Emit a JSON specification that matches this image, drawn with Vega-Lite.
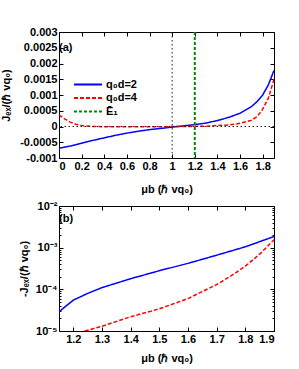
{
  "$schema": "https://vega.github.io/schema/vega-lite/v6.json",
  "padding": {"left": 0, "top": 25, "right": 5, "bottom": 5},
  "background": "white",
  "spacing": 4,
  "config": {
    "font": "Liberation Sans",
    "view": {"stroke": "black", "strokeWidth": 1},
    "axis": {
      "labelFont": "Liberation Sans", "labelFontWeight": "bold", "labelFontSize": 11, "labelColor": "black",
      "titleFont": "Liberation Sans", "titleFontWeight": "bold", "titleFontSize": 11, "titleColor": "black",
      "grid": false, "domain": false, "tickColor": "black", "tickSize": -4, "tickWidth": 1, "labelPadding": 6
    },
    "legend": {
      "labelFont": "Liberation Sans", "labelFontWeight": "bold", "labelFontSize": 11, "labelColor": "black"
    }
  },
  "datasets": {
    "top": [
      {"x": 0, "y": -0.00069, "series": "q₀d=2"},
      {"x": 0.1, "y": -0.00062, "series": "q₀d=2"},
      {"x": 0.2, "y": -0.00053, "series": "q₀d=2"},
      {"x": 0.3, "y": -0.00044, "series": "q₀d=2"},
      {"x": 0.4, "y": -0.00036, "series": "q₀d=2"},
      {"x": 0.5, "y": -0.00028, "series": "q₀d=2"},
      {"x": 0.6, "y": -0.00021, "series": "q₀d=2"},
      {"x": 0.7, "y": -0.00015, "series": "q₀d=2"},
      {"x": 0.8, "y": -0.0001, "series": "q₀d=2"},
      {"x": 0.9, "y": -0.00006, "series": "q₀d=2"},
      {"x": 1.0, "y": -0.00002, "series": "q₀d=2"},
      {"x": 1.1, "y": 0.00002, "series": "q₀d=2"},
      {"x": 1.2, "y": 0.00006, "series": "q₀d=2"},
      {"x": 1.3, "y": 0.00011, "series": "q₀d=2"},
      {"x": 1.4, "y": 0.00019, "series": "q₀d=2"},
      {"x": 1.5, "y": 0.00029, "series": "q₀d=2"},
      {"x": 1.6, "y": 0.00042, "series": "q₀d=2"},
      {"x": 1.7, "y": 0.00063, "series": "q₀d=2"},
      {"x": 1.75, "y": 0.00079, "series": "q₀d=2"},
      {"x": 1.8, "y": 0.001, "series": "q₀d=2"},
      {"x": 1.85, "y": 0.00132, "series": "q₀d=2"},
      {"x": 1.9, "y": 0.00178, "series": "q₀d=2"},
      {"x": 0, "y": 0.00037, "series": "q₀d=4"},
      {"x": 0.05, "y": 0.00024, "series": "q₀d=4"},
      {"x": 0.1, "y": 0.00014, "series": "q₀d=4"},
      {"x": 0.15, "y": 0.00007, "series": "q₀d=4"},
      {"x": 0.2, "y": 0.00003, "series": "q₀d=4"},
      {"x": 0.3, "y": 0.0, "series": "q₀d=4"},
      {"x": 0.5, "y": -0.00001, "series": "q₀d=4"},
      {"x": 0.8, "y": -0.00001, "series": "q₀d=4"},
      {"x": 1.1, "y": 0.0, "series": "q₀d=4"},
      {"x": 1.3, "y": 0.00001, "series": "q₀d=4"},
      {"x": 1.4, "y": 0.00003, "series": "q₀d=4"},
      {"x": 1.5, "y": 0.00005, "series": "q₀d=4"},
      {"x": 1.6, "y": 0.0001, "series": "q₀d=4"},
      {"x": 1.7, "y": 0.0002, "series": "q₀d=4"},
      {"x": 1.75, "y": 0.00031, "series": "q₀d=4"},
      {"x": 1.8, "y": 0.00055, "series": "q₀d=4"},
      {"x": 1.85, "y": 0.0009, "series": "q₀d=4"},
      {"x": 1.9, "y": 0.0015, "series": "q₀d=4"}
    ],
    "refs": [{"x": 1.2, "series": "Ē₁"}],
    "hline": [{"y": 0}],
    "vline": [{"x": 1}],
    "bottom": [
      {"x": 1.15, "v": 0.000029, "series": "q₀d=2"},
      {"x": 1.175, "v": 0.00004, "series": "q₀d=2"},
      {"x": 1.2, "v": 0.000055, "series": "q₀d=2"},
      {"x": 1.25, "v": 0.00008, "series": "q₀d=2"},
      {"x": 1.3, "v": 0.00011, "series": "q₀d=2"},
      {"x": 1.4, "v": 0.00018, "series": "q₀d=2"},
      {"x": 1.5, "v": 0.00028, "series": "q₀d=2"},
      {"x": 1.6, "v": 0.00042, "series": "q₀d=2"},
      {"x": 1.7, "v": 0.00066, "series": "q₀d=2"},
      {"x": 1.8, "v": 0.00105, "series": "q₀d=2"},
      {"x": 1.9, "v": 0.00185, "series": "q₀d=2"},
      {"x": 1.24, "v": 0.00001, "series": "q₀d=4"},
      {"x": 1.3, "v": 0.000013, "series": "q₀d=4"},
      {"x": 1.4, "v": 0.000022, "series": "q₀d=4"},
      {"x": 1.5, "v": 0.000034, "series": "q₀d=4"},
      {"x": 1.6, "v": 0.00006, "series": "q₀d=4"},
      {"x": 1.7, "v": 0.00013, "series": "q₀d=4"},
      {"x": 1.75, "v": 0.00021, "series": "q₀d=4"},
      {"x": 1.8, "v": 0.00036, "series": "q₀d=4"},
      {"x": 1.85, "v": 0.0007, "series": "q₀d=4"},
      {"x": 1.9, "v": 0.00155, "series": "q₀d=4"}
    ],
    "labels": [{"label": "(a)", "x": 0, "y": 0.0025}],
    "labelsb": [{"label": "(b)", "x": 1.15, "v": 0.0049}]
  },
  "resolve": {"scale": {"color": "independent", "strokeDash": "independent"}},
  "vconcat": [
    {
      "width": 215,
      "height": 126,
      "resolve": {"axis": {"x": "independent", "y": "independent"}},
      "layer": [
        {
          "data": {"name": "top"},
          "mark": {"type": "line", "strokeWidth": 1.5, "clip": true},
          "encoding": {
            "x": {"field": "x", "type": "quantitative", "scale": {"domain": [0, 1.9], "nice": false},
              "axis": {"orient": "bottom", "title": "μb (ℏ vq₀)", "titlePadding": 12, "values": [0, 0.2, 0.4, 0.6, 0.8, 1, 1.2, 1.4, 1.6, 1.8], "labelExpr": "format(datum.value, '~g')"}},
            "y": {"field": "y", "type": "quantitative", "scale": {"domain": [-0.001, 0.003], "nice": false},
              "axis": {"orient": "left", "title": "Jₑₓ/(ℏ vq₀)", "values": [-0.001, -0.0005, 0, 0.0005, 0.001, 0.0015, 0.002, 0.0025, 0.003], "labelExpr": "replace(format(datum.value, '~g'), '−', '-')", "titlePadding": 8}},
            "color": {"field": "series", "type": "nominal",
              "scale": {"domain": ["q₀d=2", "q₀d=4", "Ē₁"], "range": ["#0000ff", "#ff0000", "#008a00"]},
              "legend": {"title": null, "orient": "none", "legendX": 14, "legendY": 47, "symbolType": "stroke", "symbolSize": 784, "symbolStrokeWidth": 2, "clipHeight": 11, "rowPadding": 1.5, "labelOffset": 3, "padding": 0}},
            "strokeDash": {"field": "series", "type": "nominal",
              "scale": {"domain": ["q₀d=2", "q₀d=4", "Ē₁"], "range": [[1, 0], [4, 2], [3, 2]]},
              "legend": {"title": null, "orient": "none", "legendX": 14, "legendY": 47, "symbolType": "stroke", "symbolSize": 784, "symbolStrokeWidth": 2, "clipHeight": 11, "rowPadding": 1.5, "labelOffset": 3, "padding": 0}}
          }
        },
        {
          "data": {"name": "hline"},
          "mark": {"type": "rule", "color": "#222", "strokeDash": [1.5, 2.5], "strokeWidth": 1},
          "encoding": {
            "y": {"field": "y", "type": "quantitative", "scale": {"domain": [-0.001, 0.003], "nice": false},
              "axis": {"orient": "right", "labels": false, "title": null, "values": [-0.001, -0.0005, 0, 0.0005, 0.001, 0.0015, 0.002, 0.0025, 0.003]}}
          }
        },
        {
          "data": {"name": "vline"},
          "mark": {"type": "rule", "color": "#222", "strokeDash": [1.5, 2.5], "strokeWidth": 1},
          "encoding": {
            "x": {"field": "x", "type": "quantitative", "scale": {"domain": [0, 1.9], "nice": false},
              "axis": {"orient": "top", "labels": false, "title": null, "values": [0, 0.2, 0.4, 0.6, 0.8, 1, 1.2, 1.4, 1.6, 1.8]}}
          }
        },
        {
          "data": {"name": "refs"},
          "mark": {"type": "rule", "strokeWidth": 2},
          "encoding": {
            "x": {"field": "x", "type": "quantitative", "scale": {"domain": [0, 1.9], "nice": false}, "axis": null},
            "color": {"field": "series", "type": "nominal", "scale": {"domain": ["q₀d=2", "q₀d=4", "Ē₁"], "range": ["#0000ff", "#ff0000", "#008a00"]}},
            "strokeDash": {"field": "series", "type": "nominal", "scale": {"domain": ["q₀d=2", "q₀d=4", "Ē₁"], "range": [[1, 0], [4, 2], [3, 2]]}}
          }
        },
        {
          "data": {"name": "labels"},
          "mark": {"type": "text", "align": "left", "baseline": "middle", "font": "Liberation Sans", "fontWeight": "bold", "fontSize": 11, "dx": 0},
          "encoding": {
            "x": {"field": "x", "type": "quantitative", "scale": {"domain": [0, 1.9], "nice": false}, "axis": null},
            "y": {"field": "y", "type": "quantitative", "scale": {"domain": [-0.001, 0.003], "nice": false}, "axis": null},
            "text": {"field": "label"}
          }
        }
      ]
    },
    {
      "width": 215,
      "height": 125,
      "resolve": {"axis": {"x": "independent", "y": "independent"}},
      "layer": [
        {
          "data": {"name": "bottom"},
          "mark": {"type": "line", "strokeWidth": 1.5, "clip": true},
          "encoding": {
            "x": {"field": "x", "type": "quantitative", "scale": {"domain": [1.15, 1.9], "nice": false},
              "axis": {"orient": "bottom", "title": "μb (ℏ vq₀)", "titlePadding": 8, "values": [1.2, 1.3, 1.4, 1.5, 1.6, 1.7, 1.8, 1.9], "labelExpr": "format(datum.value, '.1f')"}},
            "y": {"field": "v", "type": "quantitative", "scale": {"type": "log", "domain": [0.00001, 0.01], "nice": false},
              "axis": {"orient": "left", "title": "-Jₑₓ/(ℏ vq₀)", "titlePadding": 6,
                "values": [0.00001, 0.00002, 0.00003, 0.00004, 0.00005, 0.00006, 0.00007, 0.00008, 0.00009, 0.0001, 0.0002, 0.0003, 0.0004, 0.0005, 0.0006, 0.0007, 0.0008, 0.0009, 0.001, 0.002, 0.003, 0.004, 0.005, 0.006, 0.007, 0.008, 0.009, 0.01],
                "tickSize": {"condition": {"test": "datum.value==0.00001||datum.value==0.0001||datum.value==0.001||datum.value==0.01", "value": -4}, "value": -2},
                "labelExpr": "datum.value==0.00001?'10⁻⁵':datum.value==0.0001?'10⁻⁴':datum.value==0.001?'10⁻³':datum.value==0.01?'10⁻²':''"}},
            "color": {"field": "series", "type": "nominal", "scale": {"domain": ["q₀d=2", "q₀d=4"], "range": ["#0000ff", "#ff0000"]}, "legend": null},
            "strokeDash": {"field": "series", "type": "nominal", "scale": {"domain": ["q₀d=2", "q₀d=4"], "range": [[1, 0], [4, 2]]}, "legend": null}
          }
        },
        {
          "data": {"name": "labelsb"},
          "mark": {"type": "text", "align": "left", "baseline": "middle", "font": "Liberation Sans", "fontWeight": "bold", "fontSize": 11},
          "encoding": {
            "x": {"field": "x", "type": "quantitative", "scale": {"domain": [1.15, 1.9], "nice": false},
              "axis": {"orient": "top", "labels": false, "title": null, "values": [1.2, 1.3, 1.4, 1.5, 1.6, 1.7, 1.8, 1.9]}},
            "y": {"field": "v", "type": "quantitative", "scale": {"type": "log", "domain": [0.00001, 0.01], "nice": false},
              "axis": {"orient": "right", "labels": false, "title": null,
                "values": [0.00001, 0.00002, 0.00003, 0.00004, 0.00005, 0.00006, 0.00007, 0.00008, 0.00009, 0.0001, 0.0002, 0.0003, 0.0004, 0.0005, 0.0006, 0.0007, 0.0008, 0.0009, 0.001, 0.002, 0.003, 0.004, 0.005, 0.006, 0.007, 0.008, 0.009, 0.01],
                "tickSize": {"condition": {"test": "datum.value==0.00001||datum.value==0.0001||datum.value==0.001||datum.value==0.01", "value": -4}, "value": -2}}},
            "text": {"field": "label"}
          }
        }
      ]
    }
  ]
}
